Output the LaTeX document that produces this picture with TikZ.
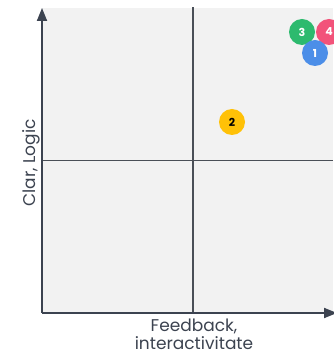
\documentclass[tikz,border=0pt]{standalone}
\usepackage{fontspec}
\setmainfont{Poppins}
\usetikzlibrary{arrows.meta}
\definecolor{bgc}{HTML}{F2F2F2}
\definecolor{axisc}{HTML}{3C4350}
\definecolor{midc}{HTML}{4A4F57}
\definecolor{cgreen}{HTML}{2DBA6E}
\definecolor{cpink}{HTML}{F2537A}
\definecolor{cblue}{HTML}{4C8EE8}
\definecolor{cyellow}{HTML}{FFC107}
\tikzset{
  dot/.style={circle, minimum size=26pt, inner sep=0pt, font=\fontsize{11}{11}\selectfont\bfseries},
  axislbl/.style={font=\fontsize{17}{20}\selectfont, text=axisc, inner sep=0pt, anchor=base},
}
\begin{document}
\begin{tikzpicture}[x=1pt,y=1pt]
\useasboundingbox (0,0) rectangle (333,356);
\fill[bgc] (42,43) rectangle (333,348);
% mid lines
\coordinate (vt) at (193,349);
\coordinate (vb) at (193,43);
\coordinate (hl) at (42,195.5);
\coordinate (hr) at (333,195.5);
\draw[midc, line width=1.2pt] (vb) -- (vt);
\draw[midc, line width=1.2pt] (hl) -- (hr);
% axes
\coordinate (o) at (42,43);
\coordinate (ytop) at (42,348);
\coordinate (xend) at (337,43);
\draw[axisc, line width=1.8pt, -{Triangle[length=13pt,width=10pt]}] (o) -- (ytop);
\draw[axisc, line width=1.8pt, -{Triangle[length=13pt,width=10pt]}] (o) -- (xend);
% labels
\node[axislbl] (xl1) at (194,24.5) {Feedback,};
\node[axislbl] (xl2) at (194,6.5) {interactivitate};
\node[axislbl, rotate=90] (yl) at (35,193) {Clar, Logic};
% dots
\node[dot, fill=cpink, text=white] (d4) at (329,324) {4};
\node[dot, fill=cgreen, text=white] (d3) at (302,324) {3};
\node[dot, fill=cblue, text=white] (d1) at (315,303) {1};
\node[dot, fill=cyellow, text=black] (d2) at (232,234) {2};
\end{tikzpicture}
\end{document}
